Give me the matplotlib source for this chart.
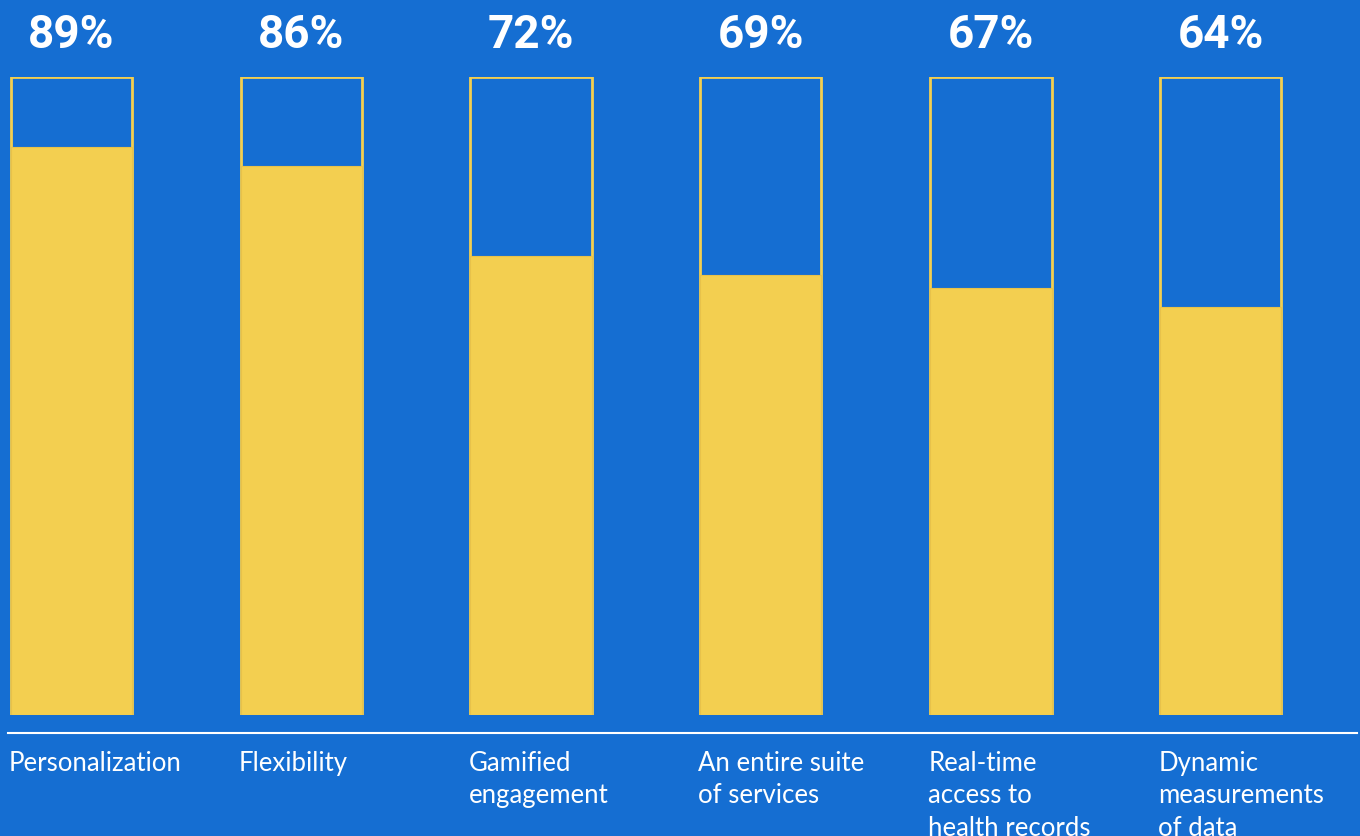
import numpy as np
import matplotlib.pyplot as plt
from matplotlib.lines import Line2D

# survey results
categories = [
    "Personalization",
    "Flexibility",
    "Gamified\nengagement",
    "An entire suite\nof services",
    "Real-time\naccess to\nhealth records",
    "Dynamic\nmeasurements\nof data",
]
shares = [89, 86, 72, 69, 67, 64]

BLUE = "#156ED2"
YELLOW = "#F3CF50"

def main():
    fig = plt.figure(figsize=(13.6, 8.36), dpi=100, facecolor=BLUE)
    W, H = 1360, 836

    # axes placed so that 0..100 fills the box outlines
    ax = fig.add_axes([0, (H - 715) / H, 1, 638 / H])
    ax.set_facecolor(BLUE)
    pitch = 230
    x0 = 71
    ax.set_xlim(-x0 / pitch, (W - x0) / pitch)
    ax.set_ylim(0, 100)
    ax.axis("off")

    xs = np.arange(len(categories))
    width = 121 / pitch

    ax.bar(xs, [100] * len(xs), width=width, fill=False, edgecolor=YELLOW, linewidth=2)
    ax.bar(xs, shares, width=width, color=YELLOW, edgecolor="#E8C24A", linewidth=0.8)

    for x, v, name in zip(xs, shares, categories):
        ax.annotate(f"{v}%", (x, 100), xytext=(0, 30), textcoords="offset points",
                    ha="center", va="center", color="white", fontsize=33,
                    fontweight="bold", family="Roboto")
        ax.annotate(name, (x - width / 2, 0), xytext=(-1.5, -26), textcoords="offset points",
                    ha="left", va="top", color="white", fontsize=18.5,
                    family="Lato", linespacing=1.36)

    fig.add_artist(Line2D([8 / W, 1357 / W], [1 - 733 / H, 1 - 733 / H],
                          color="white", linewidth=1.5))

    fig.savefig("out.png", dpi=100, facecolor=BLUE)

if __name__ == "__main__":
    main()
